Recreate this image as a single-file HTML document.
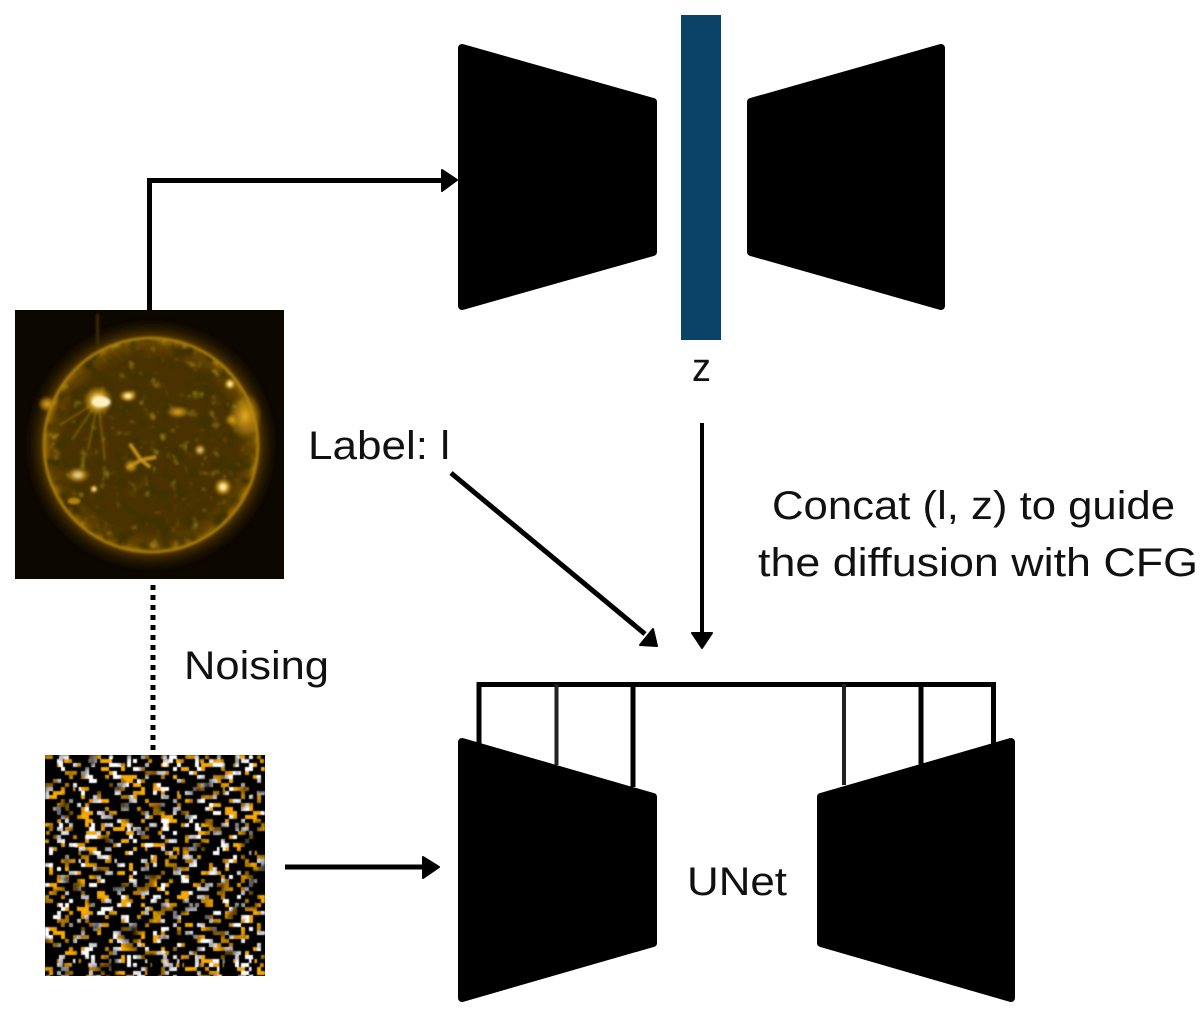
<!DOCTYPE html>
<html><head><meta charset="utf-8"><style>
html,body{margin:0;padding:0;background:#fff}
svg{display:block}
text{font-family:"Liberation Sans",sans-serif;font-size:40px;fill:#111}
</style></head><body>
<svg width="1200" height="1013" viewBox="0 0 1200 1013" xmlns="http://www.w3.org/2000/svg">
<defs>
<radialGradient id="disc" cx="50%" cy="50%" r="50%">
<stop offset="0" stop-color="#4a3200"/><stop offset=".8" stop-color="#4a3200"/><stop offset=".93" stop-color="#624300"/><stop offset="1" stop-color="#a97800"/>
</radialGradient>
<radialGradient id="halo" cx="50%" cy="50%" r="50%">
<stop offset=".78" stop-color="#a87500" stop-opacity=".9"/><stop offset=".86" stop-color="#6b4700" stop-opacity=".5"/><stop offset="1" stop-color="#0c0700" stop-opacity="0"/>
</radialGradient>
<radialGradient id="hot"><stop offset="0" stop-color="#fff"/><stop offset=".3" stop-color="#ffdc70"/><stop offset=".65" stop-color="#c08c10" stop-opacity=".7"/><stop offset="1" stop-color="#c08c10" stop-opacity="0"/></radialGradient>
<radialGradient id="warm"><stop offset="0" stop-color="#e8ac20"/><stop offset=".55" stop-color="#b58410" stop-opacity=".7"/><stop offset="1" stop-color="#b58410" stop-opacity="0"/></radialGradient>
<filter id="tex" x="0" y="0" width="100%" height="100%">
<feTurbulence type="fractalNoise" baseFrequency="0.07" numOctaves="4" seed="14"/>
<feColorMatrix values="0 0 0 0 0.05  0 0 0 0 0.03  0 0 0 0 0  2.4 2.4 0 0 -2.15"/>
</filter>
<filter id="tex2" x="0" y="0" width="100%" height="100%">
<feTurbulence type="fractalNoise" baseFrequency="0.1" numOctaves="4" seed="33"/>
<feColorMatrix values="0 0 0 0 0.55  0 0 0 0 0.38  0 0 0 0 0.02  2.4 0 0 0 -1.5"/>
</filter>
<filter id="dark" x="0" y="0" width="100%" height="100%">
<feTurbulence type="fractalNoise" baseFrequency="0.05" numOctaves="3" seed="5"/>
<feColorMatrix values="0 0 0 0 0  0 0 0 0 0  0 0 0 0 0  1.8 0 0 0 -0.72"/>
</filter>
<filter id="soft" x="-5%" y="-5%" width="110%" height="110%"><feGaussianBlur stdDeviation="1"/></filter>
<filter id="soft2" x="-5%" y="-5%" width="110%" height="110%"><feGaussianBlur stdDeviation="0.45"/></filter>
<clipPath id="sq"><rect x="15" y="310" width="269" height="269"/></clipPath>
<clipPath id="dc"><circle cx="151" cy="445" r="108"/></clipPath>
<clipPath id="nq"><rect x="45" y="755" width="220" height="221"/></clipPath>
<g id="tile" fill="none" stroke-width="4">
<g stroke="#f5a800">
<path d="M0 2H220" stroke-dasharray="8 12 4 20 12 8 4 28"/>
<path d="M0 6H220" stroke-dasharray="4 24 8 16 4 8 12 36" stroke-dashoffset="9"/>
<path d="M0 10H220" stroke-dasharray="12 20 4 12 8 32" stroke-dashoffset="20"/>
<path d="M0 14H220" stroke-dasharray="4 16 4 36 8 12" stroke-dashoffset="4"/>
<path d="M0 18H220" stroke-dasharray="8 28 12 8 4 20" stroke-dashoffset="16"/>
<path d="M0 22H220" stroke-dasharray="4 12 16 24 4 8 4 20" stroke-dashoffset="32"/>
<path d="M0 26H220" stroke-dasharray="12 8 4 32 8 24" stroke-dashoffset="12"/>
<path d="M0 30H220" stroke-dasharray="4 20 8 12 4 40" stroke-dashoffset="24"/>
<path d="M0 34H220" stroke-dasharray="8 16 4 8 16 28" stroke-dashoffset="8"/>
<path d="M0 38H220" stroke-dasharray="4 32 12 16 4 12" stroke-dashoffset="28"/>
<path d="M0 42H220" stroke-dasharray="16 24 4 12 4 20" stroke-dashoffset="4"/>
<path d="M0 46H220" stroke-dasharray="4 8 8 36 4 24" stroke-dashoffset="40"/>
<path d="M0 50H220" stroke-dasharray="8 20 12 16 4 32" stroke-dashoffset="16"/>
<path d="M0 54H220" stroke-dasharray="4 28 4 12 8 16" stroke-dashoffset="12"/>
<path d="M0 58H220" stroke-dasharray="12 16 8 24 4 8" stroke-dashoffset="36"/>
<path d="M0 62H220" stroke-dasharray="4 36 4 8 12 20" stroke-dashoffset="20"/>
<path d="M0 66H220" stroke-dasharray="8 12 4 24 8 28" stroke-dashoffset="8"/>
<path d="M0 70H220" stroke-dasharray="4 16 12 32 4 12" stroke-dashoffset="24"/>
</g>
<g stroke="#fff">
<path d="M0 2H220" stroke-dasharray="4 24 8 40 4 28" stroke-dashoffset="12"/>
<path d="M0 6H220" stroke-dasharray="8 36 4 28" stroke-dashoffset="32"/>
<path d="M0 10H220" stroke-dasharray="4 28 4 32 12 24" stroke-dashoffset="4"/>
<path d="M0 14H220" stroke-dasharray="8 32 4 20 4 44" stroke-dashoffset="24"/>
<path d="M0 18H220" stroke-dasharray="4 40 8 24" stroke-dashoffset="8"/>
<path d="M0 22H220" stroke-dasharray="8 24 4 48 8 20" stroke-dashoffset="44"/>
<path d="M0 26H220" stroke-dasharray="4 36 4 28 8 40" stroke-dashoffset="28"/>
<path d="M0 30H220" stroke-dasharray="12 28 4 40" stroke-dashoffset="12"/>
<path d="M0 34H220" stroke-dasharray="4 44 8 24 4 32" stroke-dashoffset="48"/>
<path d="M0 38H220" stroke-dasharray="8 32 4 28" stroke-dashoffset="4"/>
<path d="M0 42H220" stroke-dasharray="4 28 8 44 4 32" stroke-dashoffset="36"/>
<path d="M0 46H220" stroke-dasharray="8 36 4 20 8 28" stroke-dashoffset="20"/>
<path d="M0 50H220" stroke-dasharray="4 32 4 44" stroke-dashoffset="4"/>
<path d="M0 54H220" stroke-dasharray="8 44 8 24 4 32" stroke-dashoffset="44"/>
<path d="M0 58H220" stroke-dasharray="4 24 4 36 8 40" stroke-dashoffset="16"/>
<path d="M0 62H220" stroke-dasharray="12 32 4 36" stroke-dashoffset="28"/>
<path d="M0 66H220" stroke-dasharray="4 40 8 20 4 48" stroke-dashoffset="52"/>
<path d="M0 70H220" stroke-dasharray="8 28 4 32 8 36" stroke-dashoffset="12"/>
</g>
</g>
</defs>
<rect width="1200" height="1013" fill="#fff"/>

<!-- sun -->
<g clip-path="url(#sq)">
<rect x="15" y="310" width="269" height="269" fill="#0c0700"/>
<g filter="url(#soft)">
<circle cx="151" cy="445" r="130" fill="url(#halo)"/>
<circle cx="151" cy="445" r="108" fill="url(#disc)"/>
<g clip-path="url(#dc)">
<rect x="40" y="335" width="222" height="220" fill="#000" filter="url(#tex)"/>
<rect x="40" y="335" width="222" height="220" fill="#000" filter="url(#tex2)"/>
</g>
<circle cx="151" cy="445" r="107" fill="none" stroke="#a87c0c" stroke-width="2.500"/>
<rect x="96" y="314" width="3" height="35" fill="#3a2904"/>
<ellipse cx="47" cy="404" rx="9" ry="8" fill="url(#warm)"/>
<path d="M98 401L72 440M98 401L88 450M98 401L105 460M98 401L60 425" stroke="#a87a10" stroke-width="1.500" opacity=".6"/>
<circle cx="98" cy="401" r="15" fill="url(#hot)"/>
<ellipse cx="101" cy="402" rx="9" ry="5" fill="#fff2c0"/>
<ellipse cx="128" cy="396" rx="9" ry="6" fill="url(#hot)"/>
<ellipse cx="245" cy="416" rx="17" ry="24" fill="url(#warm)"/>
<ellipse cx="232" cy="420" rx="7" ry="6" fill="url(#warm)"/>
<circle cx="230" cy="384" r="6" fill="url(#hot)"/>
<path d="M130 444L141 460M141 460L156 457M141 460L127 468M141 460L150 467" stroke="#c8941a" stroke-width="3" fill="none"/>
<circle cx="131" cy="466" r="7" fill="url(#warm)"/>
<ellipse cx="78" cy="475" rx="12" ry="8" fill="url(#hot)" opacity=".8"/>
<circle cx="223" cy="487" r="9" fill="url(#hot)"/>
<ellipse cx="178" cy="412" rx="12" ry="6" fill="url(#warm)"/>
<circle cx="200" cy="450" r="6" fill="url(#hot)" opacity=".75"/>
<circle cx="94" cy="489" r="4" fill="url(#hot)"/>
<ellipse cx="74" cy="501" rx="6" ry="3" fill="#b58410"/>
</g>
</g>

<!-- noise -->
<rect x="45" y="755" width="220" height="221" fill="#000"/>
<g clip-path="url(#nq)"><g filter="url(#soft2)">
<use href="#tile" transform="translate(45,755)"/>
<use href="#tile" transform="translate(265,827) scale(-1,1)"/>
<use href="#tile" transform="translate(45,971) scale(1,-1)"/>
<use href="#tile" transform="translate(265,971) scale(-1,1)"/>
<path d="M61 755V976M93 755V976M129 755V976M165 755V976M197 755V976M237 755V976" fill="none" stroke="#fff" stroke-width="4" stroke-dasharray="12 56 8 72 4 48"/>
<path d="M77 755V976M113 755V976M149 755V976M181 755V976M221 755V976M253 755V976" fill="none" stroke="#000" stroke-width="4" stroke-dasharray="16 36 8 52" stroke-dashoffset="20"/>
</g>
<rect x="45" y="755" width="220" height="221" fill="#000" filter="url(#dark)"/>
</g>

<!-- shapes -->
<g fill="#000" stroke="#000" stroke-width="8" stroke-linejoin="round">
<polygon points="462,48 653,102 653,252 462,306"/>
<polygon points="751,102 941,48 941,306 751,252"/>
<polygon points="462,742 653,797 653,943 462,998"/>
<polygon points="821,797 1011,742 1011,998 821,943"/>
</g>
<rect x="681" y="15" width="40" height="325" fill="#0b4268"/>

<!-- connectors -->
<g fill="none" stroke="#000" stroke-width="5">
<path d="M149.500 310V180.500H445"/>
<path d="M153 585V752" stroke-dasharray="5 5"/>
<path d="M285 867H428"/>
<path d="M451 473L645 634"/>
<path d="M702 423V635" stroke-width="4"/>
<path d="M479 750V684.500H993.500V745"/>
<path d="M633 684V787M921 684V765"/>
<path d="M556.500 684V765M844 684V785" stroke="#222" stroke-width="4"/>
</g>
<g fill="#000" stroke="#000" stroke-width="2" stroke-linejoin="round">
<polygon points="442,170 457,180 442,191"/>
<polygon points="423,857 439,867 423,878"/>
<polygon points="653,629 657,646 640,645"/>
<polygon points="692,633 712,633 702,648"/>
</g>

<!-- labels -->
<text x="692" y="381" textLength="19" lengthAdjust="spacingAndGlyphs">z</text>
<text x="308" y="459" textLength="142" lengthAdjust="spacingAndGlyphs">Label: l</text>
<text x="772" y="519" textLength="403" lengthAdjust="spacingAndGlyphs">Concat (l, z) to guide</text>
<text x="758" y="576" textLength="440" lengthAdjust="spacingAndGlyphs">the diffusion with CFG</text>
<text x="184" y="679" textLength="145" lengthAdjust="spacingAndGlyphs">Noising</text>
<text x="687" y="895" textLength="100" lengthAdjust="spacingAndGlyphs">UNet</text>
</svg>
</body></html>
